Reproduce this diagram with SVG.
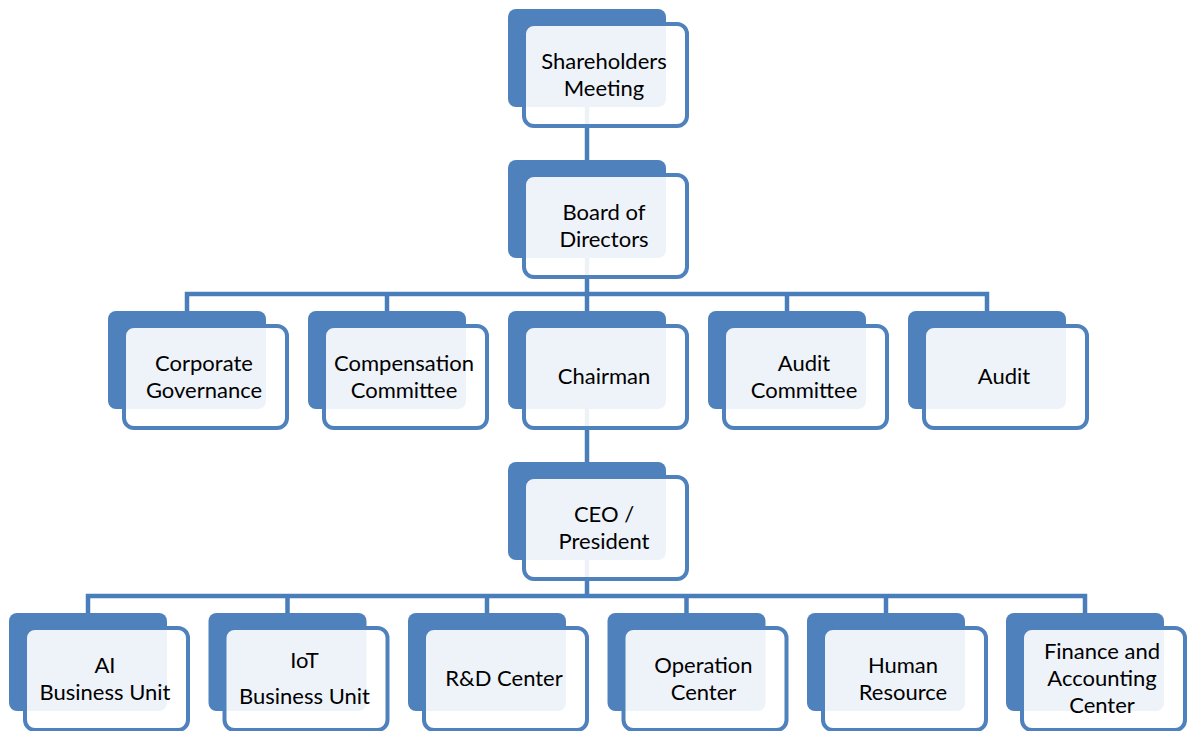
<svg xmlns="http://www.w3.org/2000/svg" width="1190" height="731" viewBox="0 0 1190 731">
<style>
.bk{fill:#4F81BD}
.fr{fill:#FFFFFF;fill-opacity:0.9;stroke:#4F81BD;stroke-width:4}
.cn{fill:none;stroke:#4A7EBB;stroke-width:4.5}
text{font-family:Lato,"Liberation Sans",sans-serif;font-size:22px;fill:#000;text-anchor:middle}
</style>
<defs>
<g id="box">
<rect class="bk" x="0" y="0" width="158" height="98" rx="8"/>
<rect class="fr" x="16" y="15" width="163" height="102" rx="10"/>
</g>
</defs>
<g id="connectors">
<path class="cn" d="M587,107 V160"/>
<path class="cn" d="M587,258 V311"/>
<path class="cn" d="M187,311 V294 H987 V311"/>
<path class="cn" d="M387,294 V311"/>
<path class="cn" d="M787,294 V311"/>
<path class="cn" d="M587,409 V462"/>
<path class="cn" d="M587,560 V596"/>
<path class="cn" d="M88,613 V596 H1085 V613"/>
<path class="cn" d="M287.5,596 V613"/>
<path class="cn" d="M487,596 V613"/>
<path class="cn" d="M686.5,596 V613"/>
<path class="cn" d="M886,596 V613"/>
</g>
<g transform="translate(-1.5,-1)">
<g id="shareholders"><use href="#box" x="509.5" y="10"/><text x="605.5" y="69.5">Shareholders</text><text x="605.5" y="96.5">Meeting</text></g>
<g id="board"><use href="#box" x="509.5" y="161"/><text x="605.5" y="220.5">Board of</text><text x="605.5" y="247.5">Directors</text></g>
<g id="corporate-governance"><use href="#box" x="109.5" y="312"/><text x="205.5" y="371.5">Corporate</text><text x="205.5" y="398.5">Governance</text></g>
<g id="compensation-committee"><use href="#box" x="309.5" y="312"/><text x="405.5" y="371.5">Compensation</text><text x="405.5" y="398.5">Committee</text></g>
<g id="chairman"><use href="#box" x="509.5" y="312"/><text x="605.5" y="385">Chairman</text></g>
<g id="audit-committee"><use href="#box" x="709.5" y="312"/><text x="805.5" y="371.5">Audit</text><text x="805.5" y="398.5">Committee</text></g>
<g id="audit"><use href="#box" x="909.5" y="312"/><text x="1005.5" y="385">Audit</text></g>
<g id="ceo"><use href="#box" x="509.5" y="463"/><text x="605.5" y="522.5">CEO /</text><text x="605.5" y="549.5">President</text></g>
<g id="ai-bu"><use href="#box" x="10.5" y="614"/><text x="106.5" y="673.5">AI</text><text x="106.5" y="700.5">Business Unit</text></g>
<g id="iot-bu"><use href="#box" x="210" y="614"/><text x="306" y="669">IoT</text><text x="306" y="705">Business Unit</text></g>
<g id="rd"><use href="#box" x="409.5" y="614"/><text x="505.5" y="687">R&amp;D Center</text></g>
<g id="operation"><use href="#box" x="609" y="614"/><text x="705" y="673.5">Operation</text><text x="705" y="700.5">Center</text></g>
<g id="hr"><use href="#box" x="808.5" y="614"/><text x="904.5" y="673.5">Human</text><text x="904.5" y="700.5">Resource</text></g>
<g id="finance"><use href="#box" x="1007.5" y="614"/><text x="1103.5" y="660">Finance and</text><text x="1103.5" y="687">Accounting</text><text x="1103.5" y="714">Center</text></g>
</g>
</svg>
